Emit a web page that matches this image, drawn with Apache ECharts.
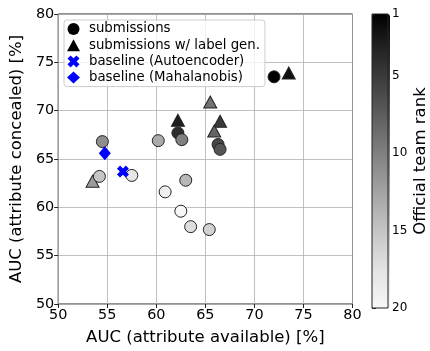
<!DOCTYPE html>
<html>
<head>
<meta charset="utf-8">
<script src="https://cdn.jsdelivr.net/npm/echarts@6/dist/echarts.min.js"></script>
<style>html,body{margin:0;padding:0;background:#fff}#c{width:430px;height:351px}</style>
</head>
<body>
<div id="c"></div>
<script>
// submissions (circles): AUC available, AUC concealed, official rank
const subX    = [72.0, 62.2, 66.3, 66.5, 62.6, 54.5, 60.2, 63.0, 54.2, 65.4, 63.5, 57.5, 60.9, 62.5];
const subY    = [73.5, 67.7, 66.5, 66.0, 67.0, 66.8, 66.9, 62.8, 63.2, 57.7, 58.0, 63.3, 61.6, 59.6];
const subRank = [1,    4,    6,    7,    10,   11,   13,   14,   15,   16,   17,   18,   19,   20];
// submissions with label generation (triangles)
const lgX    = [73.5, 62.2, 66.5, 65.9, 65.5, 53.5];
const lgY    = [73.9, 69.0, 68.9, 67.9, 70.9, 62.7];
const lgRank = [2,    3,    5,    8,    9,    12];
// baselines
const aeX = [56.6], aeY = [63.7];
const mahaX = [54.75], mahaY = [65.6];
// axes
const axisMin = 50, axisMax = 80, axisStep = 5;
const rankMin = 1, rankMax = 20;
const rankTicks = [1, 5, 10, 15, 20];
const names = ['submissions', 'submissions w/ label gen.', 'baseline (Autoencoder)', 'baseline (Mahalanobis)'];

const xPath = 'path://M2.6,0 L5,2.4 L7.4,0 L10,2.6 L7.6,5 L10,7.4 L7.4,10 L5,7.6 L2.6,10 L0,7.4 L2.4,5 L0,2.6 Z';
const FONT = 'DejaVu Sans';
const zip3 = (a, b, c) => a.map((v, i) => [v, b[i], c[i]]);
const zip2 = (a, b) => a.map((v, i) => [v, b[i]]);

const chart = echarts.init(document.getElementById('c'), null, {renderer: 'canvas'});
const gridLine = {show: true, lineStyle: {color: '#b0b0b0', width: 0.8}};
chart.setOption({
  animation: false,
  textStyle: {fontFamily: FONT},
  grid: [
    {left: 57.5, right: 77.5, top: 14, bottom: 43, show: true, borderColor: '#222', borderWidth: 1, backgroundColor: 'transparent'},
    {left: 372, width: 18, top: 14, bottom: 43, show: true, borderColor: '#222', borderWidth: 1, z: 10}
  ],
  xAxis: [
    {type: 'value', gridIndex: 0, min: axisMin, max: axisMax, interval: axisStep,
     name: 'AUC (attribute available) [%]', nameLocation: 'middle', nameGap: 25,
     nameTextStyle: {fontSize: 16.5, color: '#000', fontFamily: FONT},
     axisLine: {show: false}, axisTick: {show: true, length: 4, lineStyle: {color: '#222'}},
     axisLabel: {fontSize: 14.4, color: '#000', margin: 4, fontFamily: FONT},
     splitLine: gridLine},
    {type: 'value', gridIndex: 1, min: 0, max: 1, show: false}
  ],
  yAxis: [
    {type: 'value', gridIndex: 0, min: axisMin, max: axisMax, interval: axisStep,
     name: 'AUC (attribute concealed) [%]', nameLocation: 'middle', nameGap: 30,
     nameTextStyle: {fontSize: 16.5, color: '#000', fontFamily: FONT},
     axisLine: {show: false}, axisTick: {show: true, length: 4, lineStyle: {color: '#222'}},
     axisLabel: {fontSize: 14.4, color: '#000', margin: 4, fontFamily: FONT},
     splitLine: gridLine},
    {type: 'value', gridIndex: 1, min: rankMin, max: rankMax, inverse: true, position: 'right',
     name: 'Official team rank', nameLocation: 'middle', nameGap: 24, nameRotate: 90,
     nameTextStyle: {fontSize: 16.5, color: '#000', fontFamily: FONT},
     axisLine: {show: false},
     axisTick: {show: true, length: 4, customValues: rankTicks, lineStyle: {color: '#222'}},
     axisLabel: {fontSize: 12, color: '#000', margin: 4, customValues: rankTicks, fontFamily: FONT},
     splitLine: {show: false}}
  ],
  visualMap: {
    type: 'continuous', min: rankMin, max: rankMax, dimension: 2, seriesIndex: [0, 1],
    inverse: true, calculable: false, realtime: false,
    left: 372, top: 14, itemWidth: 18, itemHeight: 294, padding: 0,
    text: null, showLabel: false, hoverLink: false,
    inRange: {color: ['#000000', '#252525', '#444444', '#666666', '#878787', '#a8a8a8', '#c8c8c8', '#e4e4e4', '#f7f7f7'], opacity: 1}
  },
  legend: {
    orient: 'vertical', left: 64, top: 20, padding: [2, 5, 2, 3], itemGap: 2.2,
    itemWidth: 13, itemHeight: 12,
    backgroundColor: 'rgba(255,255,255,0.8)', borderColor: '#cccccc', borderWidth: 1, borderRadius: 3,
    textStyle: {fontSize: 13.3, lineHeight: 14, color: '#000', fontFamily: FONT, padding: [0, 0, 0, 4]},
    data: [
      {name: names[0], icon: 'circle', itemStyle: {color: '#000', borderWidth: 0, opacity: 1}},
      {name: names[1], icon: 'triangle', itemStyle: {color: '#000', borderWidth: 0, opacity: 1}},
      {name: names[2], icon: xPath, itemStyle: {color: '#0000ff', opacity: 1}},
      {name: names[3], icon: 'diamond', itemStyle: {color: '#0000ff', opacity: 1}}
    ]
  },
  series: [
    {name: names[0], type: 'scatter', xAxisIndex: 0, yAxisIndex: 0, symbol: 'circle', symbolSize: 12,
     itemStyle: {color: '#000', borderColor: '#222', borderWidth: 1, opacity: 1}, data: zip3(subX, subY, subRank), z: 3},
    {name: names[1], type: 'scatter', xAxisIndex: 0, yAxisIndex: 0, symbol: 'triangle', symbolSize: [13, 12],
     itemStyle: {color: '#000', borderColor: '#222', borderWidth: 1, opacity: 1}, data: zip3(lgX, lgY, lgRank), z: 2},
    {name: names[2], type: 'scatter', xAxisIndex: 0, yAxisIndex: 0, symbol: xPath, symbolSize: 12,
     itemStyle: {color: '#0000ff', opacity: 1}, data: zip2(aeX, aeY), z: 4},
    {name: names[3], type: 'scatter', xAxisIndex: 0, yAxisIndex: 0, symbol: 'diamond', symbolSize: [12, 14],
     itemStyle: {color: '#0000ff', opacity: 1}, data: zip2(mahaX, mahaY), z: 4}
  ]
});
</script>
</body>
</html>
